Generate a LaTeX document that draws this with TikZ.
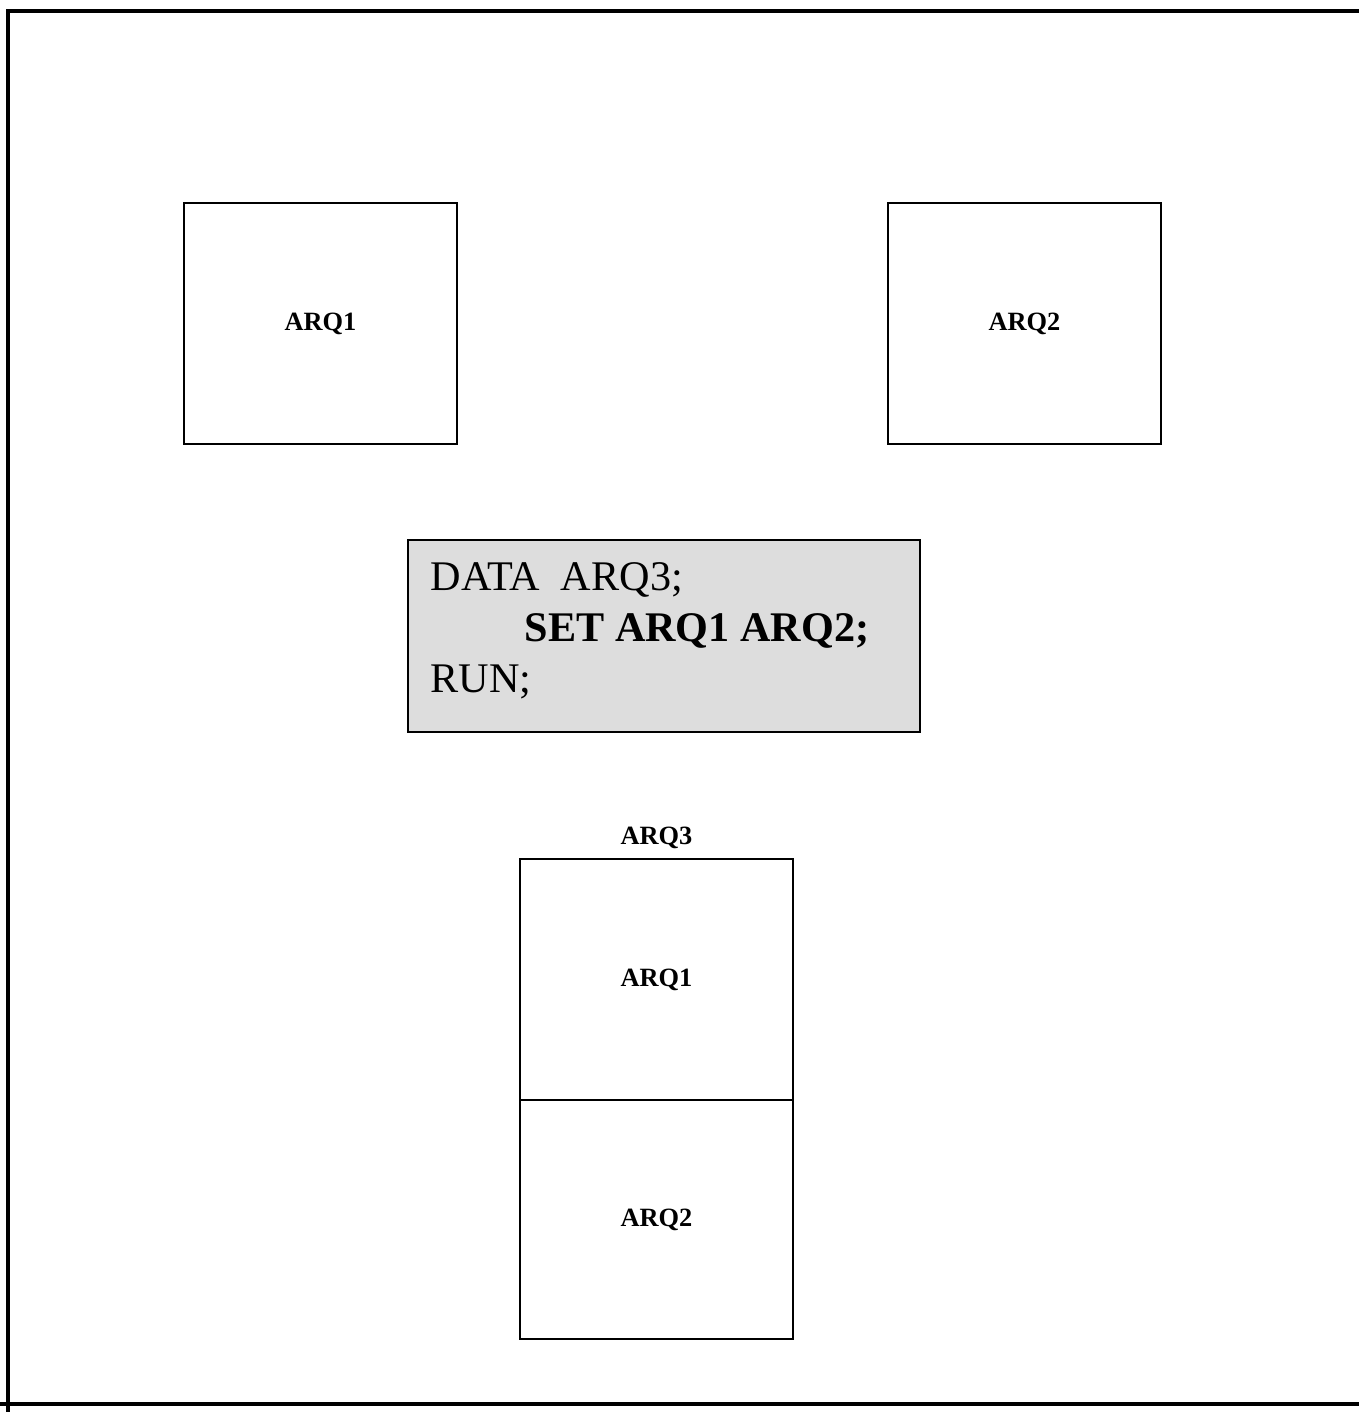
\documentclass[tikz,border=0pt]{standalone}
\usepackage{fontspec}
\setmainfont{Liberation Serif}
\usepackage{tikz}
\usetikzlibrary{positioning,calc}
\definecolor{codegray}{HTML}{DDDDDD}
\tikzset{>=latex}
\tikzset{filebox/.style={draw=black, line width=0.6pt, rectangle,
    minimum width=2.73cm, minimum height=2.40cm, inner sep=0pt,
    font=\fontsize{7.5}{9}\selectfont\bfseries}}
\tikzset{codebox/.style={draw=black, line width=0.6pt, fill=codegray,
    rectangle, minimum width=5.12cm, minimum height=1.92cm, inner sep=0pt}}
\tikzset{frameline/.style={line width=0.9pt}}

\begin{document}
\begin{tikzpicture}[x=0.01cm, y=-0.01cm]
          \useasboundingbox (0,0) rectangle (1359,1412);
          % outer frame
          \coordinate (tl) at (8,11);
          \coordinate (tr) at (1359,11);
          \coordinate (bl) at (8,1412);
          \coordinate (bll) at (0,1404);
          \coordinate (brr) at (1359,1404);
          \draw[frameline] (bl) -- (tl) -- (tr);
          \draw[line width=1.2pt] (bll) -- (brr);
          % input files
          \node[filebox] (arq1) at (320.5,323.5) {ARQ1};
          \node[filebox] (arq2) at (1024.5,323.5) {ARQ2};
          % data step
          \node[codebox] (code) at (664,636) {};
          \node[anchor=base west, inner sep=0pt, align=left,
            font=\fontsize{12}{14.5}\selectfont] (codetext) at (430,692)
            {DATA\ \ ARQ3;\\
             \hspace{0.94cm}\textbf{SET ARQ1 ARQ2;}\\
             RUN;};
          % result file
          \node[filebox, minimum height=2.41cm] (arq3a) at (656.5,979.5) {ARQ1};
          \node[filebox, minimum height=2.39cm, below=-0.6pt of arq3a] (arq3b) {ARQ2};
          \node[above=2.5pt of arq3a.north, inner sep=0pt,
            font=\fontsize{7.5}{9}\selectfont\bfseries] (arq3) {ARQ3};
        \end{tikzpicture}
\end{document}
